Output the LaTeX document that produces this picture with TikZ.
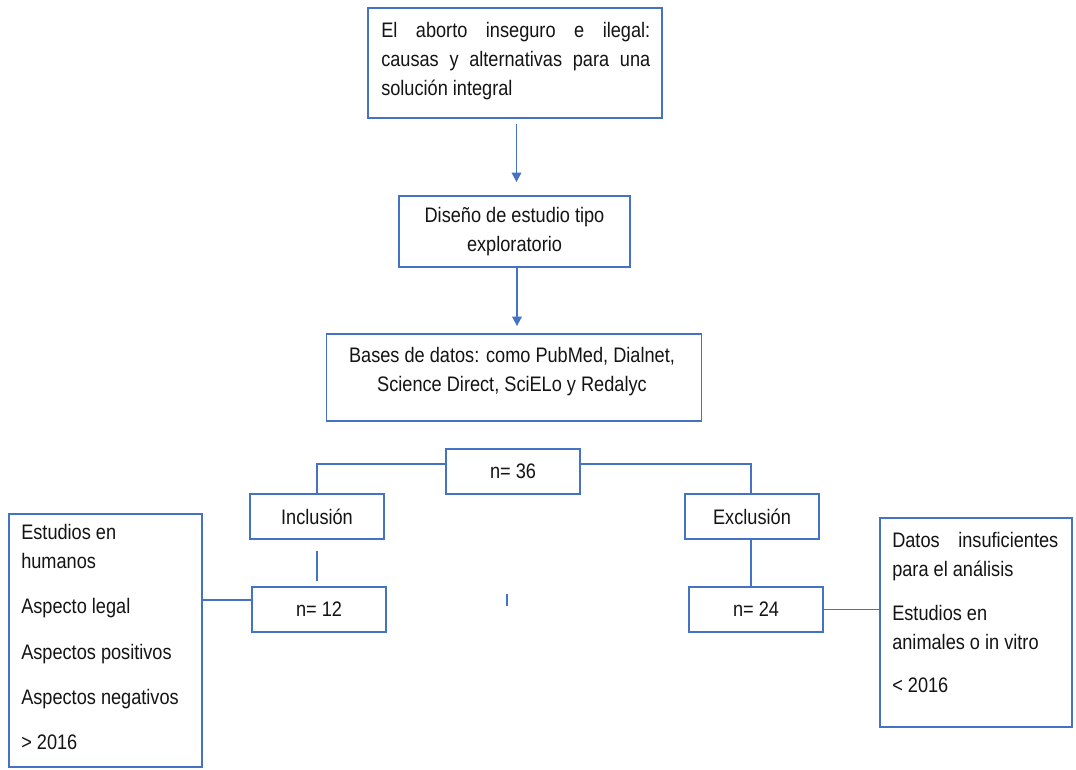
\documentclass[tikz,border=0pt]{standalone}
\usepackage{fontspec}
\setmainfont[FakeStretch=0.865]{Liberation Sans}
\usetikzlibrary{arrows.meta,calc}
\definecolor{bl}{HTML}{4472C4}
\definecolor{tx}{HTML}{141414}
\begin{document}
\begin{tikzpicture}[x=0.75pt,y=-0.75pt,
  box/.style={draw=bl, line width=1.4pt, rectangle, inner sep=0pt, text=tx,
    font=\fontsize{15.75pt}{22pt}\selectfont, align=center},
  txt/.style={inner sep=0pt, text=tx, font=\fontsize{15.75pt}{22pt}\selectfont, align=left},
  ln/.style={draw=bl, line width=1.4pt},
  arr/.style={ln, -{Triangle[width=7pt,length=7pt]}}]
\useasboundingbox[fill=white] (0,0) rectangle (1076,769);

% boxes
\node[box, minimum width=294*0.75pt, minimum height=110*0.75pt] (b1) at (515,63) {};
\node[txt, anchor=west] (t1) at (381,61) {\makebox[201.75pt][s]{El aborto inseguro e ilegal:}\\\makebox[201.75pt][s]{causas y alternativas para una}\\solución integral};

\node[box, minimum width=231*0.75pt, minimum height=71*0.75pt] (b2) at (514.5,231.5) {Diseño de estudio tipo\\exploratorio};

\node[box, minimum width=375*0.75pt, minimum height=87*0.75pt] (b3) at (514,377.5) {};
\node[txt, align=center] (t3) at (512,371.5) {Bases de datos: como PubMed, Dialnet,\\Science Direct, SciELo y Redalyc};

\node[box, minimum width=134*0.75pt, minimum height=45*0.75pt] (n36) at (513,471.5) {n= 36};
\node[box, minimum width=134*0.75pt, minimum height=45*0.75pt] (incl) at (317,516.5) {Inclusión};
\node[box, minimum width=134*0.75pt, minimum height=45*0.75pt] (excl) at (752,516.5) {Exclusión};
\node[box, minimum width=134*0.75pt, minimum height=45*0.75pt] (n12) at (319,609.5) {n= 12};
\node[box, minimum width=134*0.75pt, minimum height=45*0.75pt] (n24) at (756,609.5) {n= 24};

\node[box, minimum width=193*0.75pt, minimum height=253*0.75pt] (lbox) at (105.5,640.5) {};
\node[txt, anchor=west] (tl) at (21,637) {Estudios en\\humanos\\[12pt]Aspecto legal\\[12pt]Aspectos positivos\\[12pt]Aspectos negativos\\[12pt]> 2016};

\node[box, minimum width=192*0.75pt, minimum height=209*0.75pt] (rbox) at (976,622.5) {};
\node[txt, anchor=west] (tr) at (892,612.5) {\makebox[124.5pt][s]{Datos insuficientes}\\para el análisis\\[10.5pt]Estudios en\\animales o in vitro\\[10.5pt]< 2016};

% connectors
\coordinate (jl) at (0,464);
\coordinate (cl) at (0,600);
\coordinate (tk1) at (507,594);
\coordinate (tk2) at (507,606);

\draw[arr] ($(b1.south)+(1.5,5)$) -- ($(b1.south |- b2.north)+(1.5,-13)$);
\draw[arr] ($(b2.south)+(2.5,0)$) -- ($(b2.south |- b3.north)+(2.5,-7)$);

\draw[ln] (n36.west |- jl) -| (incl.north);
\draw[ln] (n36.east |- jl) -| ($(excl.north)+(-1,0)$);

\draw[ln] ($(incl.south)+(0,11)$) -- ($(incl.south |- n12.north)+(0,-5)$);
\draw[ln] ($(excl.south)+(-1,0)$) -- ($(excl.south |- n24.north)+(-1,0)$);

\draw[ln] (lbox.east |- cl) -- (n12.west |- cl);
\draw[ln] (n24.east) -- (rbox.west |- n24.east);

\draw[ln] (tk1) -- (tk2);
\end{tikzpicture}
\end{document}
